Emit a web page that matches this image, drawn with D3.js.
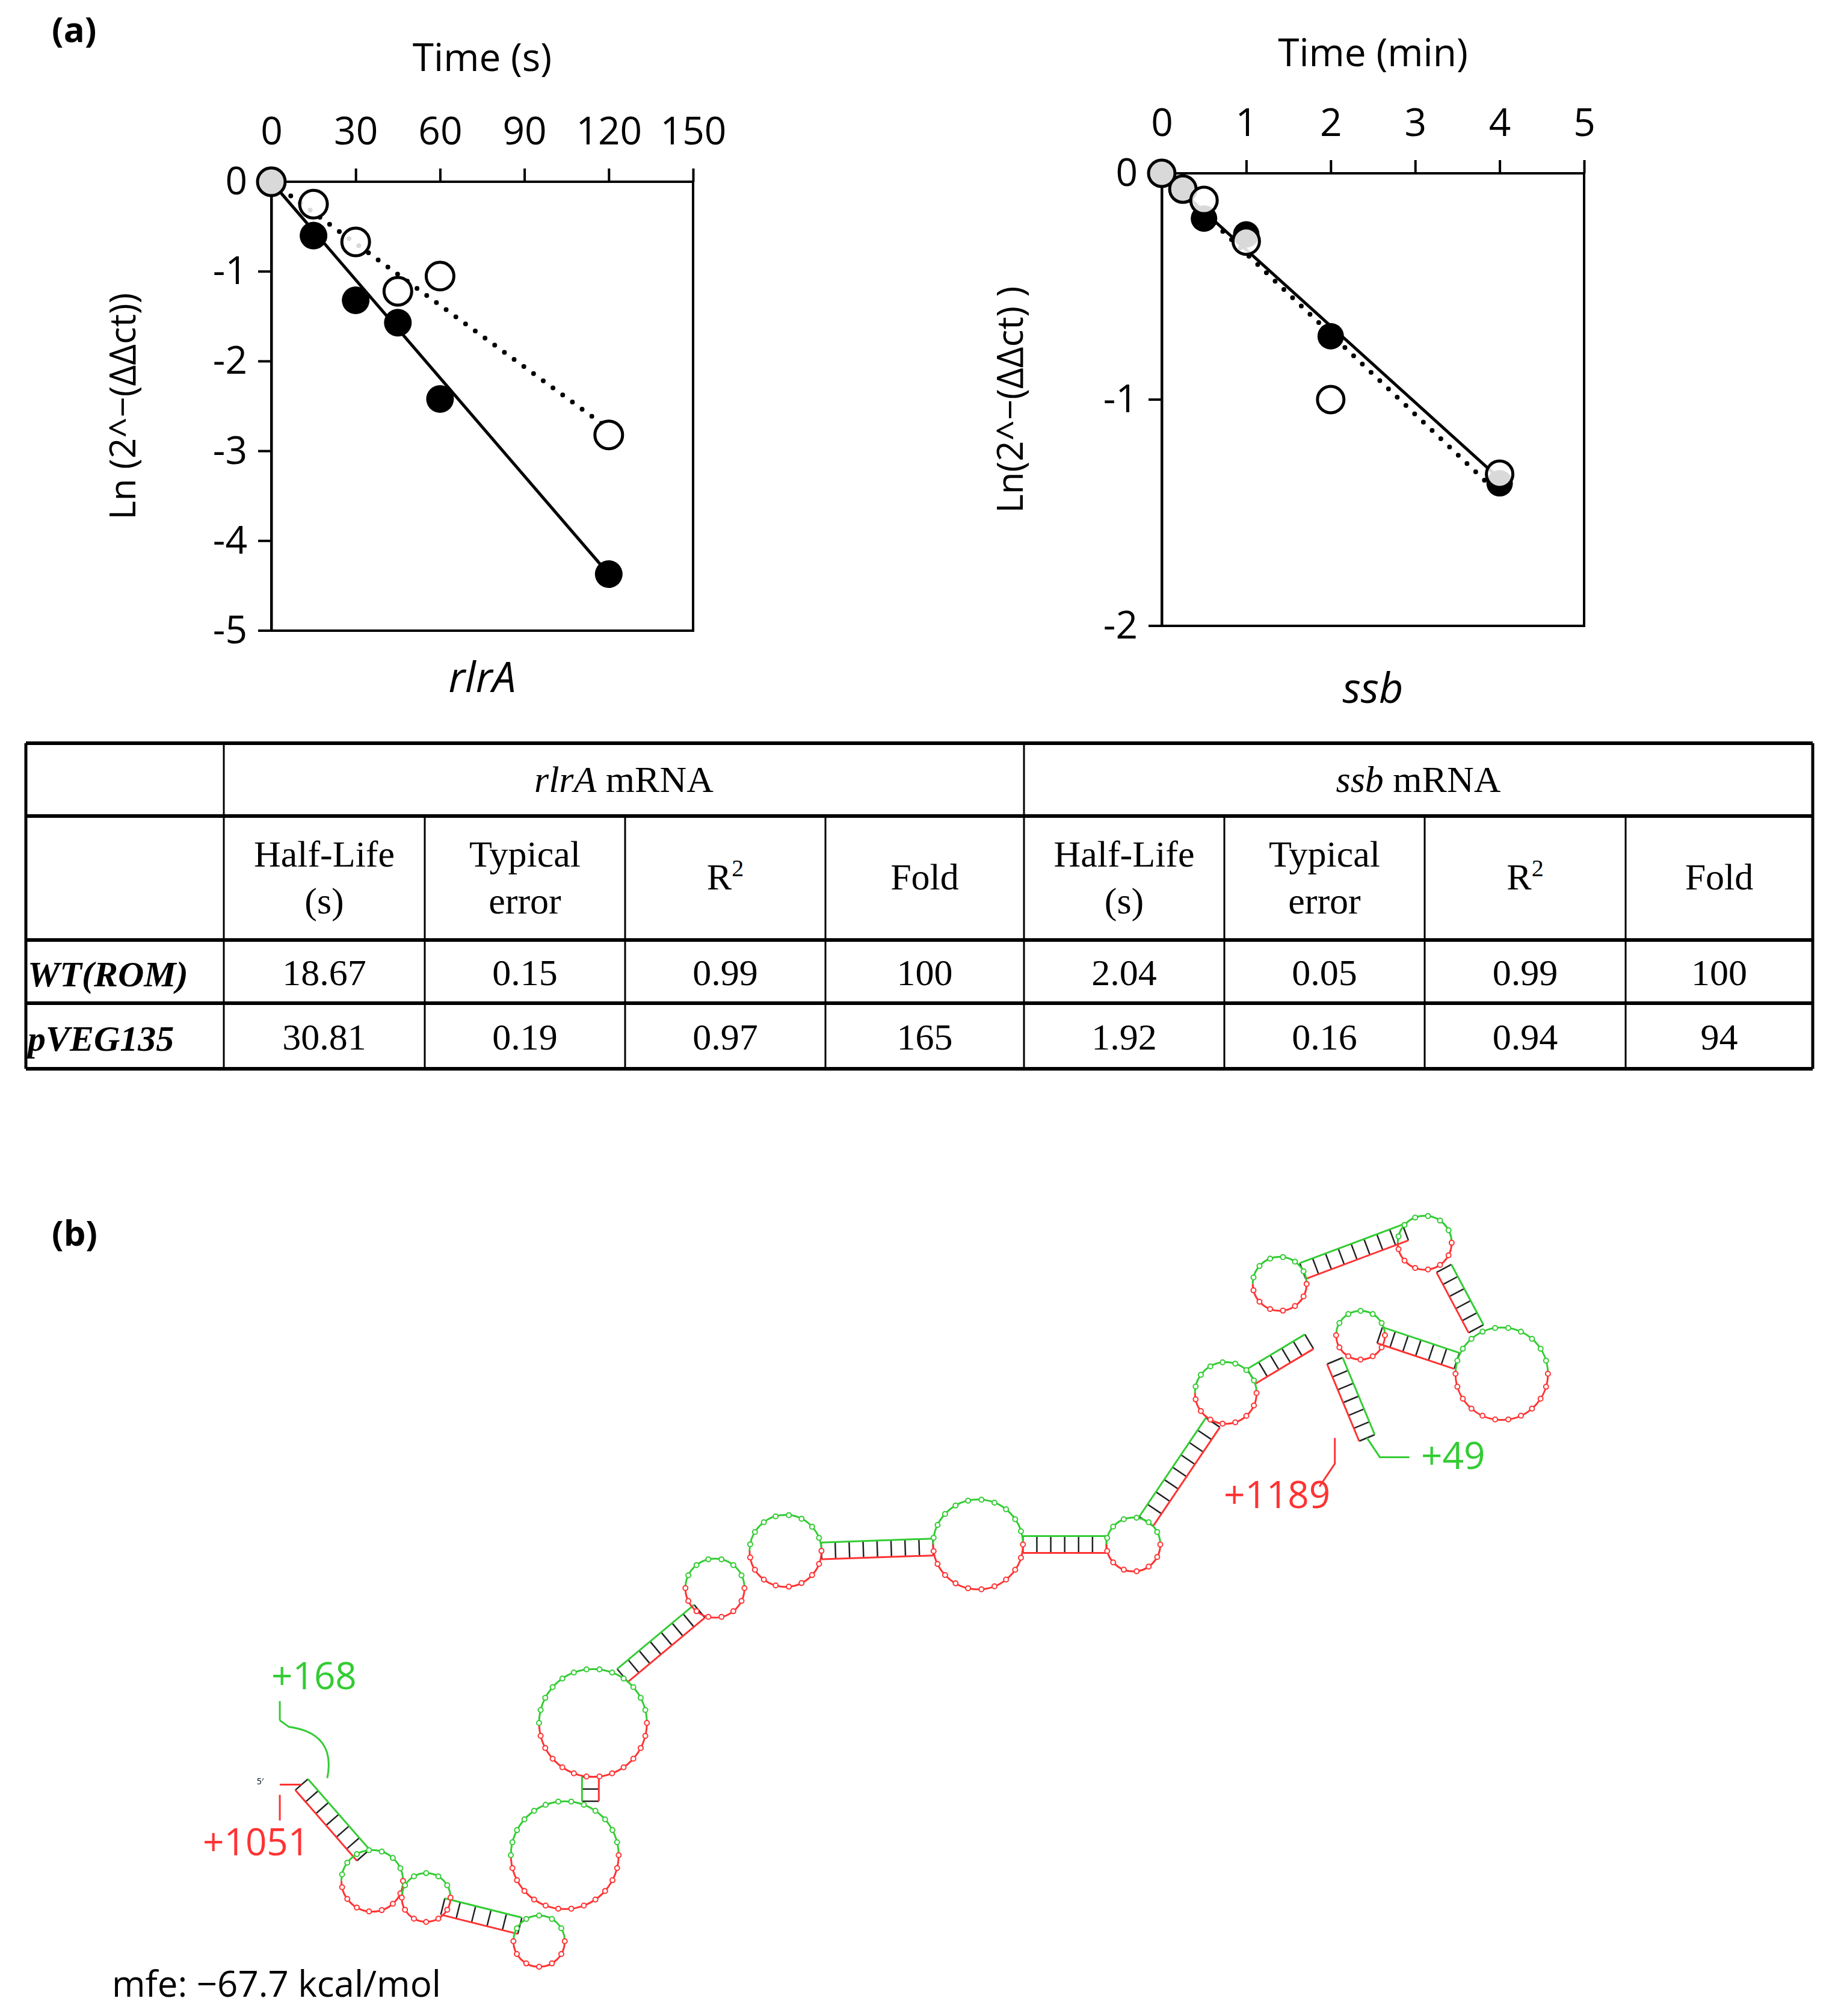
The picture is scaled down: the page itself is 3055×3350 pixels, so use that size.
<!DOCTYPE html>
<html><head><meta charset="utf-8">
<script src="https://cdn.jsdelivr.net/npm/d3@7"></script>
<style>body{margin:0;background:#fff}</style></head>
<body><svg id="c" width="3055" height="3350"></svg>
<script>
// ---- data ----
const rlrATime = [0, 15, 30, 45, 60, 120];
const rlrAWT = [0, -0.6, -1.32, -1.57, -2.42, -4.37];
const rlrAPVEG = [0, -0.25, -0.67, -1.22, -1.05, -2.82];
const rlrAFitWT = [0, -4.37];
const rlrAFitPVEG = [0, -2.75];
const rlrAXTicks = [0, 30, 60, 90, 120, 150];
const rlrAYTicks = [0, -1, -2, -3, -4, -5];

const ssbTime = [0, 0.25, 0.5, 1, 2, 4];
const ssbWT = [0, -0.07, -0.2, -0.27, -0.72, -1.37];
const ssbPVEG = [0, -0.07, -0.12, -0.3, -1.0, -1.33];
const ssbFitWT = [0, -1.35];
const ssbFitPVEG = [0, -1.42];
const ssbXTicks = [0, 1, 2, 3, 4, 5];
const ssbYTicks = [0, -1, -2];

const tableGroups = ["rlrA", "ssb"];
const tableCols = ["Half-Life\n(s)", "Typical\nerror", "R2", "Fold"];
const tableRows = ["WT(ROM)", "pVEG135"];
const tableWT = ["18.67", "0.15", "0.99", "100", "2.04", "0.05", "0.99", "100"];
const tablePVEG = ["30.81", "0.19", "0.97", "165", "1.92", "0.16", "0.94", "94"];

// RNA loops (display units of a 1432-wide figure)
const loopX = [290, 332, 420, 440, 462, 557, 612, 762, 883, 955, 997, 1110, 1060, 1170];
const loopY = [1465, 1478, 1512, 1445, 1342, 1237, 1208, 1203, 1203, 1085, 1000, 968, 1040, 1070];
const loopR = [24, 19, 20, 42, 42, 23, 28, 35, 21, 24, 21, 21, 19, 36];
const stemX1 = [235, 345, 460, 485, 640, 797, 893, 975, 1015, 1125, 1075, 1040];
const stemY1 = [1390, 1485, 1403, 1305, 1208, 1203, 1185, 1072, 990, 988, 1040, 1060];
const stemX2 = [283, 405, 460, 545, 727, 862, 945, 1020, 1095, 1150, 1135, 1065];
const stemY2 = [1445, 1500, 1384, 1255, 1205, 1203, 1108, 1045, 960, 1035, 1060, 1120];

const svg = d3.select("#c");
const SANS = "'Open Sans', sans-serif";
const fmt = d => String(d);

function scatter(o) {
  const g = svg.append("g");
  const x = d3.scaleLinear().domain(o.xd).range([o.l, o.r]);
  const y = d3.scaleLinear().domain(o.yd).range([o.t, o.b]);
  const ax = g.append("g").attr("transform", `translate(0,${o.t})`)
    .call(d3.axisTop(x).tickValues(o.xt).tickFormat(fmt).tickSize(22).tickSizeOuter(0).tickPadding(40));
  const ay = g.append("g").attr("transform", `translate(${o.l},0)`)
    .call(d3.axisLeft(y).tickValues(o.yt).tickFormat(fmt).tickSize(0).tickPadding(40));
  [ax, ay].forEach(a => {
    a.selectAll("path,line").attr("stroke", "#000").attr("stroke-width", 4);
    a.selectAll("text").attr("font-family", SANS).attr("font-size", 64).attr("fill", "#000");
  });
  ax.select(".domain").remove();
  g.append("rect").attr("x", o.l).attr("y", o.t).attr("width", o.r - o.l).attr("height", o.b - o.t)
    .attr("fill", "none").attr("stroke", "#000").attr("stroke-width", 4);
  g.selectAll(".yt").data(o.yt).join("line").attr("x1", o.l - 22).attr("x2", o.l)
    .attr("y1", d => y(d)).attr("y2", d => y(d)).attr("stroke", "#000").attr("stroke-width", 4);
  g.append("line").attr("x1", x(0)).attr("y1", y(o.fitP[0])).attr("x2", x(o.xs[o.xs.length - 1])).attr("y2", y(o.fitP[1]))
    .attr("stroke", "#000").attr("stroke-width", 8).attr("stroke-dasharray", "0 20").attr("stroke-linecap", "round");
  g.append("line").attr("x1", x(0)).attr("y1", y(o.fitW[0])).attr("x2", x(o.xs[o.xs.length - 1])).attr("y2", y(o.fitW[1]))
    .attr("stroke", "#000").attr("stroke-width", 5);
  g.selectAll(".w").data(o.xs).join("circle").attr("cx", d => x(d)).attr("cy", (d, i) => y(o.w[i]))
    .attr("r", o.pr).attr("fill", "#000");
  g.selectAll(".p").data(o.xs).join("circle").attr("cx", d => x(d)).attr("cy", (d, i) => y(o.p[i]))
    .attr("r", o.pr).attr("fill", "#fff").attr("fill-opacity", 0.85).attr("stroke", "#000").attr("stroke-width", 5);
  g.append("text").attr("x", (o.l + o.r) / 2).attr("y", o.tt).attr("text-anchor", "middle")
    .attr("font-family", SANS).attr("font-size", 64).text(o.title);
  g.append("text").attr("transform", `translate(${o.yx},${(o.t + o.b) / 2}) rotate(-90)`).attr("text-anchor", "middle")
    .attr("font-family", SANS).attr("font-size", 60).text(o.ytitle);
  g.append("text").attr("x", (o.l + o.r) / 2).attr("y", o.gy).attr("text-anchor", "middle")
    .attr("font-family", SANS).attr("font-style", "italic").attr("font-size", 70).text(o.gene);
}

svg.append("text").attr("x", 86).attr("y", 70).attr("font-family", SANS).attr("font-weight", "bold").attr("font-size", 58).text("(a)");
scatter({l: 451, r: 1152, t: 302, b: 1048, xd: [0, 150], yd: [0, -5], xt: rlrAXTicks, yt: rlrAYTicks,
  xs: rlrATime, w: rlrAWT, p: rlrAPVEG, fitW: rlrAFitWT, fitP: rlrAFitPVEG, pr: 23,
  title: "Time (s)", tt: 118, ytitle: "Ln (2^−(ΔΔct))", yx: 225, gene: "rlrA", gy: 1150});
scatter({l: 1931, r: 2633, t: 288, b: 1040, xd: [0, 5], yd: [0, -2], xt: ssbXTicks, yt: ssbYTicks,
  xs: ssbTime, w: ssbWT, p: ssbPVEG, fitW: ssbFitWT, fitP: ssbFitPVEG, pr: 22,
  title: "Time (min)", tt: 110, ytitle: "Ln(2^−(ΔΔct) )", yx: 1700, gene: "ssb", gy: 1168});

// ---- table ----
const SERIF = "'Liberation Serif', serif";
const colX = [43, 372, 706, 1039, 1372, 1702, 2035, 2368, 2702, 3013];
const rowY = [1235, 1356, 1562, 1667, 1776];
const tb = svg.append("g");
rowY.forEach(yy => tb.append("line").attr("x1", colX[0]).attr("x2", colX[9]).attr("y1", yy).attr("y2", yy)
  .attr("stroke", "#000").attr("stroke-width", 6));
colX.forEach((xx, i) => tb.append("line").attr("x1", xx).attr("x2", xx)
  .attr("y1", (i === 0 || i === 1 || i === 5 || i === 9) ? rowY[0] : rowY[1]).attr("y2", rowY[4])
  .attr("stroke", "#000").attr("stroke-width", (i === 0 || i === 9) ? 5 : 3));
const fs = 62;
tableGroups.forEach((gname, gi) => {
  const t = tb.append("text").attr("x", (colX[1 + gi * 4] + colX[5 + gi * 4]) / 2).attr("y", 1316)
    .attr("text-anchor", "middle").attr("font-family", SERIF).attr("font-size", fs);
  t.append("tspan").attr("font-style", "italic").text(gname);
  t.append("tspan").text(" mRNA");
});
for (let c = 0; c < 8; c++) {
  const name = tableCols[c % 4];
  const cx = (colX[c + 1] + colX[c + 2]) / 2;
  const lines = name.split("\n");
  if (name === "R2") {
    const t = tb.append("text").attr("x", cx).attr("y", 1478).attr("text-anchor", "middle").attr("font-family", SERIF).attr("font-size", fs);
    t.append("tspan").text("R");
    t.append("tspan").attr("dy", -22).attr("font-size", 40).text("2");
  } else {
    lines.forEach((ln, k) => tb.append("text").attr("x", cx).attr("y", lines.length === 1 ? 1478 : 1440 + k * 78)
      .attr("text-anchor", "middle").attr("font-family", SERIF).attr("font-size", fs).text(ln));
  }
  [tableWT, tablePVEG].forEach((arr, r) => tb.append("text").attr("x", cx).attr("y", (rowY[2 + r] + rowY[3 + r]) / 2 + 22)
    .attr("text-anchor", "middle").attr("font-family", SERIF).attr("font-size", fs).text(arr[c]));
}
tableRows.forEach((rn, r) => tb.append("text").attr("x", 46).attr("y", (rowY[2 + r] + rowY[3 + r]) / 2 + 24)
  .attr("font-family", SERIF).attr("font-style", "italic").attr("font-weight", "bold").attr("font-size", 60).text(rn));

// ---- RNA structure ----
svg.append("text").attr("x", 86).attr("y", 2070).attr("font-family", SANS).attr("font-weight", "bold").attr("font-size", 58).text("(b)");
const s = d3.scaleLinear().domain([0, 1432]).range([0, 3055]);
const GREEN = "#33cc33", RED = "#ff3333";
const rna = svg.append("g");
stemX1.forEach((x1, i) => {
  const X1 = s(x1), Y1 = s(stemY1[i]), X2 = s(stemX2[i]), Y2 = s(stemY2[i]);
  const dx = X2 - X1, dy = Y2 - Y1, L = Math.hypot(dx, dy) || 1;
  const nx = -dy / L * 14, ny = dx / L * 14;
  const n = Math.max(2, Math.round(L / 24));
  for (let k = 0; k <= n; k++) {
    const px = X1 + dx * k / n, py = Y1 + dy * k / n;
    rna.append("line").attr("x1", px - nx).attr("y1", py - ny).attr("x2", px + nx).attr("y2", py + ny).attr("stroke", "#222").attr("stroke-width", 2.5);
  }
  rna.append("line").attr("x1", X1 - nx).attr("y1", Y1 - ny).attr("x2", X2 - nx).attr("y2", Y2 - ny).attr("stroke", GREEN).attr("stroke-width", 3);
  rna.append("line").attr("x1", X1 + nx).attr("y1", Y1 + ny).attr("x2", X2 + nx).attr("y2", Y2 + ny).attr("stroke", RED).attr("stroke-width", 3);
});
const arc = d3.arc();
loopX.forEach((lx, i) => {
  const g = rna.append("g").attr("transform", `translate(${s(lx)},${s(loopY[i])})`);
  const R = s(loopR[i]);
  g.append("path").attr("d", arc({innerRadius: R, outerRadius: R, startAngle: -Math.PI / 2, endAngle: Math.PI / 2}))
    .attr("fill", "none").attr("stroke", GREEN).attr("stroke-width", 3);
  g.append("path").attr("d", arc({innerRadius: R, outerRadius: R, startAngle: Math.PI / 2, endAngle: 3 * Math.PI / 2}))
    .attr("fill", "none").attr("stroke", RED).attr("stroke-width", 3);
  const n = Math.round(2 * Math.PI * R / 22);
  for (let k = 0; k < n; k++) {
    const a = 2 * Math.PI * k / n;
    g.append("circle").attr("cx", R * Math.cos(a)).attr("cy", R * Math.sin(a)).attr("r", 4)
      .attr("fill", "#fff").attr("stroke", Math.sin(a) < 0 ? GREEN : RED).attr("stroke-width", 2);
  }
});
rna.append("path").attr("d", `M${s(218)},${s(1340)} L${s(225)},${s(1345)} Q${s(262)},${s(1350)} ${s(255)},${s(1385)}`)
  .attr("fill", "none").attr("stroke", GREEN).attr("stroke-width", 3);
rna.append("line").attr("x1", s(218)).attr("y1", s(1390)).attr("x2", s(235)).attr("y2", s(1390)).attr("stroke", RED).attr("stroke-width", 3);
rna.append("line").attr("x1", s(218)).attr("y1", s(1398)).attr("x2", s(218)).attr("y2", s(1418)).attr("stroke", RED).attr("stroke-width", 3);
rna.append("line").attr("x1", s(218)).attr("y1", s(1325)).attr("x2", s(218)).attr("y2", s(1340)).attr("stroke", GREEN).attr("stroke-width", 3);
rna.append("text").attr("x", s(200)).attr("y", s(1390)).attr("font-size", 14).attr("font-family", SANS).text("5′");
rna.append("path").attr("d", `M${s(1065)},${s(1120)} L${s(1075)},${s(1135)} L${s(1098)},${s(1135)}`).attr("fill", "none").attr("stroke", GREEN).attr("stroke-width", 3);
rna.append("path").attr("d", `M${s(1040)},${s(1120)} L${s(1040)},${s(1140)} L${s(1028)},${s(1158)}`).attr("fill", "none").attr("stroke", RED).attr("stroke-width", 3);

const lab = [["+168", 451, 2807, GREEN], ["+1051", 337, 3083, RED], ["+1189", 2034, 2506, RED], ["+49", 2362, 2441, GREEN]];
lab.forEach(d => svg.append("text").attr("x", d[1]).attr("y", d[2]).attr("fill", d[3]).attr("font-family", SANS).attr("font-size", 62).text(d[0]));
svg.append("text").attr("x", 186).attr("y", 3318).attr("font-family", SANS).attr("font-size", 60).text("mfe: −67.7 kcal/mol");
</script></body></html>
